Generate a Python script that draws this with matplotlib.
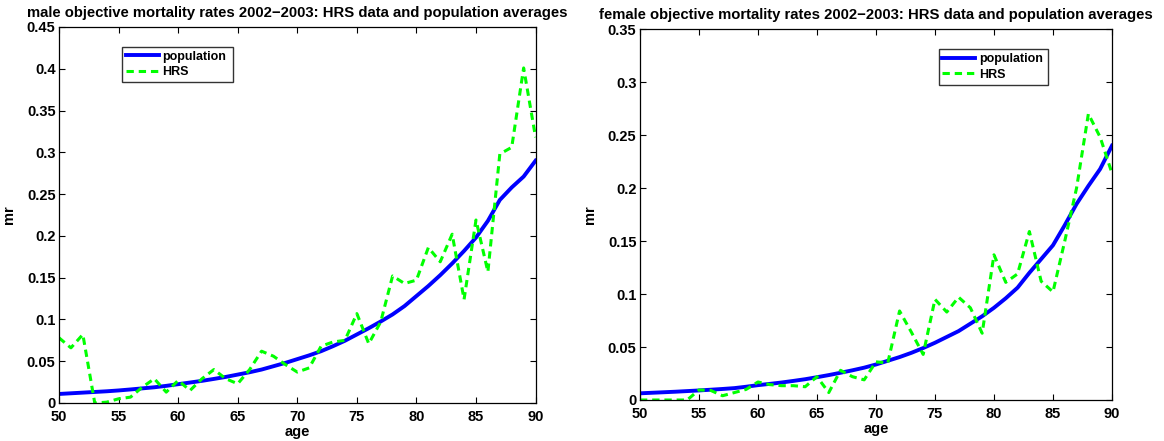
import matplotlib
matplotlib.use("Agg")
import matplotlib.pyplot as plt

# --- Données ---
ages = list(range(50, 91))

male_pop = [0.0108, 0.0116, 0.0124, 0.0132, 0.0140, 0.0150, 0.0162, 0.0175, 0.0188, 0.0205,
            0.0225, 0.0245, 0.0265, 0.0288, 0.0312, 0.0340, 0.0368, 0.0400, 0.0440, 0.0480,
            0.0525, 0.0570, 0.0620, 0.0680, 0.0745, 0.0820, 0.0895, 0.0975, 0.1060, 0.1160,
            0.1280, 0.1400, 0.1530, 0.1670, 0.1820, 0.1980, 0.2180, 0.2430, 0.2580, 0.2710,
            0.2900]
male_hrs = [0.078, 0.066, 0.082, 0.000, 0.001, 0.005, 0.007, 0.019, 0.029, 0.013,
            0.027, 0.015, 0.029, 0.040, 0.029, 0.023, 0.040, 0.062, 0.056, 0.046,
            0.037, 0.042, 0.068, 0.073, 0.075, 0.107, 0.071, 0.097, 0.152, 0.143,
            0.147, 0.186, 0.169, 0.202, 0.124, 0.219, 0.157, 0.298, 0.306, 0.401,
            0.318]

female_pop = [0.0063, 0.0068, 0.0073, 0.0078, 0.0084, 0.0090, 0.0097, 0.0104, 0.0112, 0.0125,
              0.0140, 0.0152, 0.0165, 0.0180, 0.0196, 0.0215, 0.0235, 0.0257, 0.0280, 0.0305,
              0.0335, 0.0370, 0.0405, 0.0445, 0.0490, 0.0540, 0.0595, 0.0650, 0.0720, 0.0790,
              0.0870, 0.0960, 0.1060, 0.1200, 0.1330, 0.1460, 0.1650, 0.1850, 0.2020, 0.2180,
              0.2400]
female_hrs = [0.000, 0.000, 0.000, 0.000, 0.000, 0.0095, 0.009, 0.004, 0.007, 0.010,
              0.017, 0.0145, 0.0135, 0.0135, 0.0125, 0.022, 0.007, 0.028, 0.022, 0.019,
              0.036, 0.035, 0.084, 0.064, 0.043, 0.095, 0.083, 0.097, 0.087, 0.063,
              0.137, 0.111, 0.119, 0.159, 0.112, 0.102, 0.150, 0.200, 0.270, 0.248,
              0.214]

panels = [
    ("male", male_pop, male_hrs, [0, 0.05, 0.1, 0.15, 0.2, 0.25, 0.3, 0.35, 0.4, 0.45],
     ["0", "0.05", "0.1", "0.15", "0.2", "0.25", "0.3", "0.35", "0.4", "0.45"],
     [0.0507, 0.0862, 0.4094, 0.8526], (0.133, 0.853, 0.233, 0.095)),
    ("female", female_pop, female_hrs, [0, 0.05, 0.1, 0.15, 0.2, 0.25, 0.3, 0.35],
     ["0", "0.05", "0.1", "0.15", "0.2", "0.25", "0.3", "0.35"],
     [0.5498, 0.0930, 0.4055, 0.8410], (0.633, 0.851, 0.232, 0.094)),
]
xticks = [50, 55, 60, 65, 70, 75, 80, 85, 90]

plt.rcParams.update({
    "font.family": ["Liberation Sans", "DejaVu Sans"],
    "font.weight": "bold",
})

fig = plt.figure(figsize=(11.64, 4.41), dpi=100)

for sex, pop, hrs, yt, ytl, rect, legbox in panels:
    ax = fig.add_axes(rect)
    ax.plot(ages, pop, color=(0, 0, 1), linewidth=2.8, label="population")
    ax.plot(ages, hrs, color=(0, 1, 0), linewidth=2.2, linestyle=(0, (2.4, 1.6)),
            label="HRS")
    ax.set_xlim(50, 90)
    ax.set_ylim(yt[0], yt[-1])
    ax.set_xticks(xticks)
    ax.set_xticklabels([str(t) for t in xticks], fontsize=10.5, fontweight="bold")
    ax.set_yticks(yt)
    ax.set_yticklabels(ytl, fontsize=10.5, fontweight="bold")
    ax.tick_params(direction="in", length=4, width=0.8, top=True, right=True, pad=2.5)
    ax.tick_params(axis="x", pad=5)
    for s in ax.spines.values():
        s.set_linewidth(0.9)
    ax.set_xlabel("age", fontsize=10.5, fontweight="bold", labelpad=0.5)
    ax.set_ylabel("mr", fontsize=10.5, fontweight="bold", labelpad=8)
    ax.set_title(f"{sex} objective mortality rates 2002\u22122003: HRS data and population averages",
                 fontsize=10.7, fontweight="bold", pad=7)
    leg = ax.legend(loc="center", bbox_to_anchor=legbox, mode="expand",
                    fontsize=9, frameon=True, fancybox=False, edgecolor="black",
                    handlelength=2.6, handletextpad=0.3, borderpad=0.3,
                    labelspacing=0.3, borderaxespad=0)
    leg.get_frame().set_linewidth(1.0)
    for t in leg.get_texts():
        t.set_fontweight("bold")

fig.savefig("out.png", dpi=100)
